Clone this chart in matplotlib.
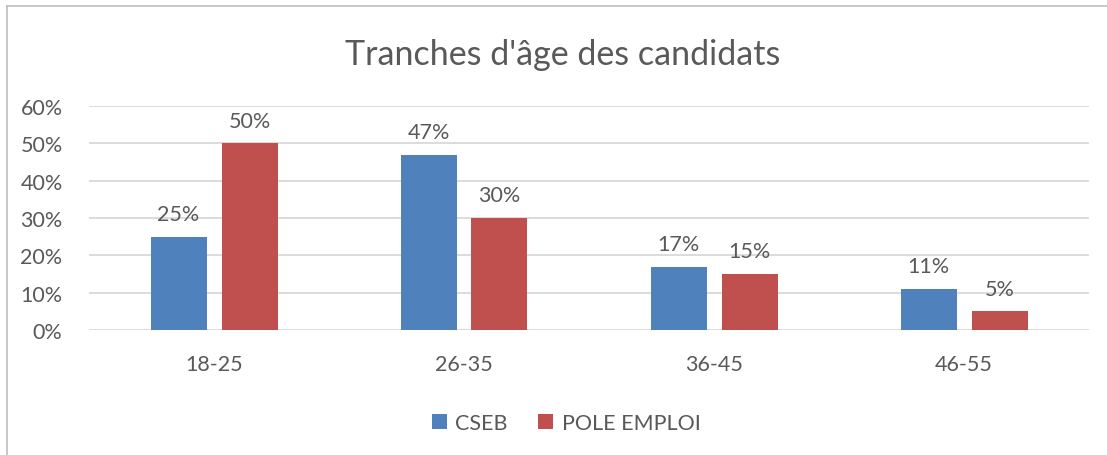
import matplotlib.pyplot as plt
from matplotlib.lines import Line2D
import numpy as np

# data
categories = ['18-25', '26-35', '36-45', '46-55']
cseb = [25, 47, 17, 11]
pole_emploi = [50, 30, 15, 5]
series_names = ['CSEB', 'POLE EMPLOI']
yticks = [0, 10, 20, 30, 40, 50, 60]

blue = '#4F81BD'
red = '#C0504D'
txt = '#595959'

plt.rcParams['font.family'] = ['Lato', 'DejaVu Sans']

fig = plt.figure(figsize=(11.07, 4.56), dpi=100)
ax = fig.add_axes([89 / 1107, 125 / 456, 1000 / 1107, 224 / 456])

x = np.arange(len(categories))
w = 0.224
off = 0.142
b1 = ax.bar(x - off, cseb, w, color=blue, label=series_names[0], zorder=3)
b2 = ax.bar(x + off, pole_emploi, w, color=red, label=series_names[1], zorder=3)

for bars, vals in ((b1, cseb), (b2, pole_emploi)):
    for r, v in zip(bars, vals):
        ax.annotate(f'{v}%', (r.get_x() + r.get_width() / 2, v),
                    xytext=(0, 9), textcoords='offset points',
                    ha='center', va='bottom', fontsize=15.5, color=txt)

ax.set_xlim(-0.5, 3.5)
ax.set_ylim(0, 60)
ax.set_yticks(yticks)
ax.set_yticklabels([f'{t}%' for t in yticks])
ax.set_xticks(x)
ax.set_xticklabels(categories)
ax.tick_params(axis='both', length=0, labelsize=15.5, labelcolor=txt)
ax.tick_params(axis='y', pad=19)
ax.tick_params(axis='x', pad=17)
ax.grid(axis='y', color='#D9D9D9', linewidth=1.3, zorder=0)
for s in ax.spines.values():
    s.set_visible(False)

fig.text(563 / 1107, 1 - 55 / 456, "Tranches d'âge des candidats",
         ha='center', va='center', fontsize=24.5, color=txt)

ax.legend(loc='center', bbox_to_anchor=(0.477, -0.415), ncol=2, frameon=False,
          fontsize=15.5, labelcolor=txt, handlelength=0.7, handleheight=0.7,
          handletextpad=0.4, columnspacing=1.4)

# chart frame (cropped screenshot)
fig.add_artist(Line2D([7 / 1107, 1], [1 - 7 / 456] * 2, color='#BFBFBF', lw=1.2))
fig.add_artist(Line2D([7 / 1107] * 2, [0, 1 - 7 / 456], color='#BFBFBF', lw=1.2))

fig.savefig('out.png', dpi=100)
